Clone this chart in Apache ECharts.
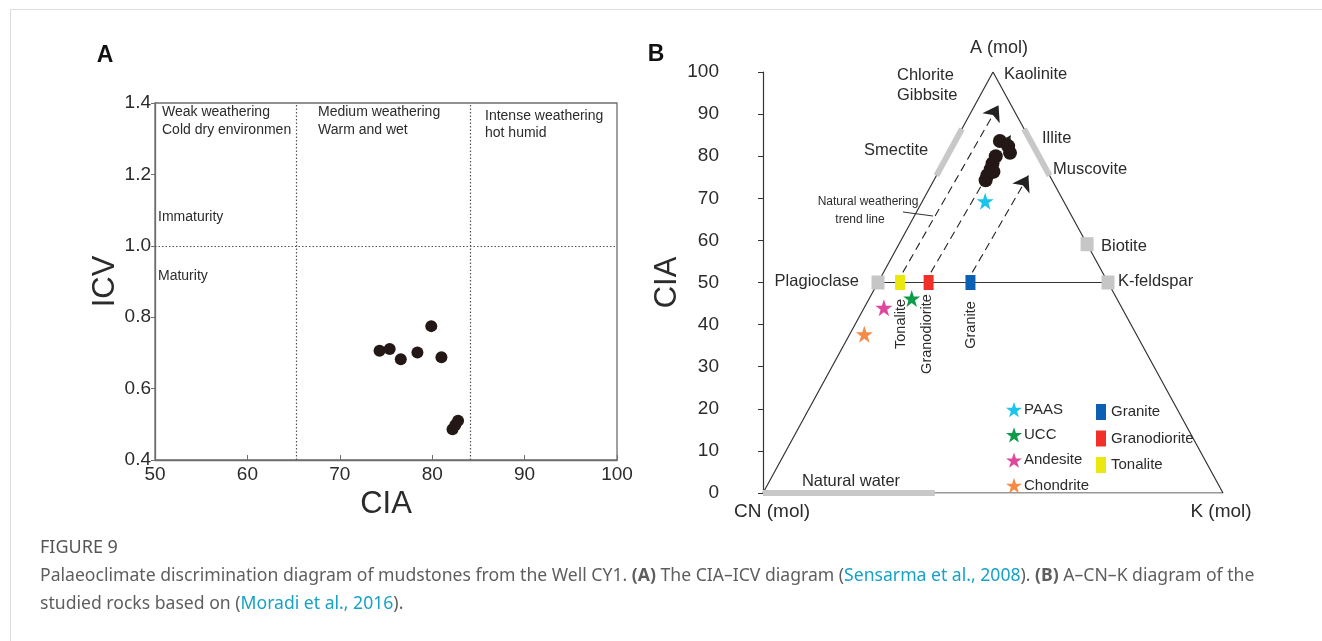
<!DOCTYPE html>
<html>
<head>
<meta charset="utf-8">
<script src="https://cdn.jsdelivr.net/npm/echarts@6/dist/echarts.min.js"></script>
<style>
  html, body { margin: 0; padding: 0; background: #fff; }
  #chart { width: 1322px; height: 641px; }
</style>
</head>
<body>
<div id="chart"></div>
<script>
// ---- Panel A: CIA–ICV ----
const sampleCIA = [74.3, 75.4, 76.6, 78.4, 79.9, 81.0, 82.2, 82.5, 82.8]
const sampleICV = [0.706, 0.711, 0.682, 0.701, 0.775, 0.688, 0.486, 0.498, 0.510]
const zoneCIA = [65.3, 84.1]   // weathering zone boundaries
const maturityICV = 1.0

// ---- Panel B: A–CN–K ternary (mol %), A = CIA ----
const sampleA = [83.6, 82.4, 80.8, 80.0, 78.3, 76.9, 75.5, 74.3, 76.3]
const sampleK = [9.7, 12.1, 13.3, 10.6, 10.75, 11.05, 11.05, 11.25, 11.95]
const refNames = ['PAAS', 'UCC', 'Andesite', 'Chondrite']
const refA = [69.3, 46.2, 44.0, 37.7]
const refK = [13.65, 9.23, 4.28, 3.18]
const refColors = ['#1cc3ea', '#0e9c4a', '#e0479c', '#f68b45']
const rockNames = ['Granite', 'Granodiorite', 'Tonalite']
const rockA = [50, 50, 50]
const rockK = [20.1, 11.0, 4.8]
const rockColors = ['#0b60b4', '#f2302a', '#ebe70f']
const mineralA = [50, 50, 59.1]   // Plagioclase, K-feldspar, Biotite
const mineralK = [0, 50, 40.9]
const trendStartA = [52.4, 52.4, 52.4]
const trendStartK = [4.2, 10.3, 19.3]
const trendEndA = [92.1, 84.9, 75.4]
const trendEndK = [5.15, 11.35, 20.0]
const smectiteA = [75.4, 86.5]    // on A–CN side
const illiteA = [75.4, 86.5]      // on A–K side
const waterK = [0, 37.35]         // on CN–K side
const ciaTicks = [0, 100, 10]

const FAMILY = 'Liberation Sans'
const FONT = '"Liberation Sans", Arial, sans-serif'
const INK = '#2b2b2b'
const STAR = 'path://M50,0 L61.8,35.3 L98.5,35.3 L68.8,57.1 L80.1,92.7 L50,70.7 L19.9,92.7 L31.2,57.1 L1.5,35.3 L38.2,35.3 Z'

// ternary (A, K) -> cartesian [x, A]
const tern = (a, k) => [k / 100 + a / 200, a]

const txt = (text, x, y, size, opt = {}) => ({
  type: 'text',
  x, y,
  rotation: opt.rotation || 0,
  silent: true,
  style: {
    text,
    fill: opt.fill || INK,
    font: `${opt.weight || 'normal'} ${size}px ${opt.family || FONT}`,
    textAlign: opt.align || 'left',
    textVerticalAlign: 'middle'
  }
})

const chart = echarts.init(document.getElementById('chart'))

const option = {
  backgroundColor: '#fff',
  animation: false,
  grid: [
    { left: 155, top: 103, width: 462, height: 357, show: true, borderColor: '#6e6e6e', borderWidth: 1.3 },
    { left: 763, top: 72, width: 460, height: 421 }
  ],
  xAxis: [
    {
      gridIndex: 0, type: 'value', min: 50, max: 100, interval: 10,
      name: 'CIA', nameLocation: 'middle', nameGap: 29,
      nameTextStyle: { fontSize: 31, color: INK, fontFamily: FAMILY },
      axisLine: { lineStyle: { color: '#6e6e6e', width: 1.3 } },
      axisTick: { inside: true, length: 5, lineStyle: { color: '#6e6e6e' } },
      axisLabel: { fontSize: 19, color: INK, fontFamily: FAMILY, margin: 5 },
      splitLine: { show: false }
    },
    { gridIndex: 1, type: 'value', min: 0, max: 1, show: false }
  ],
  yAxis: [
    {
      gridIndex: 0, type: 'value', min: 0.4, max: 1.4, interval: 0.2,
      name: 'ICV', nameLocation: 'middle', nameGap: 34, nameRotate: 90,
      nameTextStyle: { fontSize: 31, color: INK, fontFamily: FAMILY },
      axisLine: { show: true, lineStyle: { color: '#6e6e6e', width: 1.3 } },
      axisTick: { show: true, length: 4, lineStyle: { color: '#6e6e6e' } },
      axisLabel: { fontSize: 19, color: INK, fontFamily: FAMILY, margin: 4, formatter: v => v.toFixed(1) },
      splitLine: { show: false }
    },
    {
      gridIndex: 1, type: 'value', min: ciaTicks[0], max: ciaTicks[1], interval: ciaTicks[2],
      offset: 36,
      name: 'CIA', nameLocation: 'middle', nameGap: 38, nameRotate: 90,
      nameTextStyle: { fontSize: 31, color: INK, fontFamily: FAMILY },
      axisLine: { show: true, lineStyle: { color: '#333', width: 1.2 } },
      axisTick: { show: true, length: 5, lineStyle: { color: '#333' } },
      axisLabel: { fontSize: 19, color: INK, fontFamily: FAMILY, margin: 8 },
      splitLine: { show: false }
    }
  ],
  legend: [
    {
      left: 1001, top: 397, orient: 'vertical', itemWidth: 16, itemHeight: 16, itemGap: 10,
      selectedMode: false,
      textStyle: { fontSize: 15, color: INK, fontFamily: FAMILY, padding: [0, 0, 0, -3] },
      data: refNames.map(n => ({ name: n, icon: STAR }))
    },
    {
      left: 1091, top: 399, orient: 'vertical', itemWidth: 10, itemHeight: 16, itemGap: 10.5,
      selectedMode: false,
      textStyle: { fontSize: 15, color: INK, fontFamily: FAMILY },
      data: rockNames.map(n => ({ name: n, icon: 'rect' }))
    }
  ],
  series: [
    // panel A samples with zone boundaries
    {
      name: 'samplesA', type: 'scatter', xAxisIndex: 0, yAxisIndex: 0,
      symbolSize: 12, itemStyle: { color: '#231815', opacity: 1 },
      data: sampleCIA.map((c, i) => [c, sampleICV[i]]),
      markLine: {
        silent: true, symbol: 'none', label: { show: false },
        lineStyle: { type: [1.5, 2], color: '#555', width: 1.2 },
        data: [...zoneCIA.map(v => ({ xAxis: v })), { yAxis: maturityICV }]
      },
      z: 5
    },
    // panel B triangle
    {
      name: 'frame', type: 'line', xAxisIndex: 1, yAxisIndex: 1, showSymbol: false, silent: true,
      lineStyle: { color: '#333', width: 1.2 },
      data: [tern(0, 0), tern(100, 0), tern(0, 100), tern(0, 0)], z: 1
    },
    {
      name: 'feldspar', type: 'line', xAxisIndex: 1, yAxisIndex: 1, showSymbol: false, silent: true,
      lineStyle: { color: '#333', width: 1.2 },
      data: [tern(mineralA[0], mineralK[0]), tern(mineralA[1], mineralK[1])], z: 1
    },
    // mineral ranges
    {
      name: 'ranges', type: 'lines', coordinateSystem: 'cartesian2d', xAxisIndex: 1, yAxisIndex: 1,
      silent: true, lineStyle: { color: '#c8c8c8', width: 6, opacity: 1, cap: 'butt' },
      data: [
        { coords: [tern(smectiteA[0], 0), tern(smectiteA[1], 0)] },
        { coords: [tern(illiteA[0], 100 - illiteA[0]), tern(illiteA[1], 100 - illiteA[1])] },
        { coords: [tern(0, waterK[0]), tern(0, waterK[1])] }
      ],
      z: 2
    },
    // weathering trend arrows
    {
      name: 'trend', type: 'lines', coordinateSystem: 'cartesian2d', xAxisIndex: 1, yAxisIndex: 1,
      silent: true, symbol: ['none', 'arrow'], symbolSize: [11, 15],
      lineStyle: { color: '#222', width: 1.1, type: [8, 5], opacity: 1 },
      itemStyle: { color: '#222' },
      data: trendStartA.map((a, i) => ({ coords: [tern(a, trendStartK[i]), tern(trendEndA[i], trendEndK[i])] })),
      z: 3
    },
    // grey mineral squares
    {
      name: 'minerals', type: 'scatter', xAxisIndex: 1, yAxisIndex: 1, symbol: 'rect', symbolSize: [13, 14],
      itemStyle: { color: '#c6c6c6', opacity: 1 }, silent: true,
      data: mineralA.map((a, i) => tern(a, mineralK[i])), z: 4
    },
    // rock reference rectangles
    ...rockNames.map((n, i) => ({
      name: n, type: 'scatter', xAxisIndex: 1, yAxisIndex: 1, symbol: 'rect', symbolSize: [10, 15],
      itemStyle: { color: rockColors[i], opacity: 1 }, silent: true,
      data: [tern(rockA[i], rockK[i])], z: 4
    })),
    // reference stars
    ...refNames.map((n, i) => ({
      name: n, type: 'scatter', xAxisIndex: 1, yAxisIndex: 1, symbol: STAR, symbolSize: 17,
      itemStyle: { color: refColors[i], opacity: 1 }, silent: true,
      data: [tern(refA[i], refK[i])], z: 4
    })),
    // panel B samples
    {
      name: 'samplesB', type: 'scatter', xAxisIndex: 1, yAxisIndex: 1, symbolSize: 14,
      itemStyle: { color: '#231815', opacity: 1 }, silent: true,
      data: sampleA.map((a, i) => tern(a, sampleK[i])), z: 5
    }
  ],
  graphic: [
    // card frame
    { type: 'line', silent: true, shape: { x1: 10.5, y1: 9.5, x2: 1322, y2: 9.5 }, style: { stroke: '#dcdcdc', lineWidth: 1 } },
    { type: 'line', silent: true, shape: { x1: 10.5, y1: 9.5, x2: 10.5, y2: 641 }, style: { stroke: '#dcdcdc', lineWidth: 1 } },

    // panel letters
    txt('A', 105, 56, 23, { weight: 'bold', align: 'center', fill: '#111' }),
    txt('B', 656, 55, 23, { weight: 'bold', align: 'center', fill: '#111' }),

    // panel A annotations
    txt('Weak weathering', 162, 112, 14),
    txt('Cold dry environmen', 162, 130, 14),
    txt('Medium weathering', 318, 112, 14),
    txt('Warm and wet', 318, 130, 14),
    txt('Intense weathering', 485, 116, 14),
    txt('hot humid', 485, 133, 14),
    txt('Immaturity', 158, 217, 14),
    txt('Maturity', 158, 276, 14),

    // panel B annotations
    txt('A (mol)', 999, 48, 18, { align: 'center' }),
    txt('Chlorite', 897, 75, 16.5),
    txt('Gibbsite', 897, 95, 16.5),
    txt('Kaolinite', 1004, 74, 16.5),
    txt('Smectite', 864, 150, 16.5),
    txt('Illite', 1042, 138, 16.5),
    txt('Muscovite', 1053, 169, 16.5),
    txt('Natural weathering', 868, 202, 12, { align: 'center' }),
    txt('trend line', 860, 220, 12, { align: 'center' }),
    { type: 'line', silent: true, shape: { x1: 903, y1: 212, x2: 933, y2: 216 }, style: { stroke: '#333', lineWidth: 1 } },
    txt('Biotite', 1101, 246, 16.5),
    txt('K-feldspar', 1118, 281, 16.5),
    txt('Plagioclase', 859, 281, 16.5, { align: 'right' }),
    txt('Tonalite', 901, 324, 14.5, { align: 'center', rotation: Math.PI / 2 }),
    txt('Granodiorite', 927, 334, 14.5, { align: 'center', rotation: Math.PI / 2 }),
    txt('Granite', 970.5, 325, 14.5, { align: 'center', rotation: Math.PI / 2 }),
    txt('Natural water', 851, 481, 16.5, { align: 'center' }),
    txt('CN (mol)', 772, 512, 19, { align: 'center' }),
    txt('K (mol)', 1221, 512, 19, { align: 'center' }),

    // caption
    txt('FIGURE 9', 40, 548, 18, { fill: '#555', family: '"Noto Sans", sans-serif' }),
    {
      type: 'text', x: 40, y: 562, silent: true,
      style: {
        text: 'Palaeoclimate discrimination diagram of mudstones from the Well CY1. {b|(A)} The CIA–ICV diagram ({l|Sensarma et al., 2008}). {b|(B)} A–CN–K diagram of the\nstudied rocks based on ({l|Moradi et al., 2016}).',
        fill: '#5e5e5e',
        font: '17.6px "Noto Sans", sans-serif',
        lineHeight: 28,
        rich: {
          b: { fontWeight: 'bold', fill: '#5e5e5e', fontSize: 17.6, fontFamily: 'Noto Sans', lineHeight: 28 },
          l: { fill: '#17a2c6', fontSize: 17.6, fontFamily: 'Noto Sans', lineHeight: 28 }
        }
      }
    }
  ]
}

chart.setOption(option)
</script>
</body>
</html>
